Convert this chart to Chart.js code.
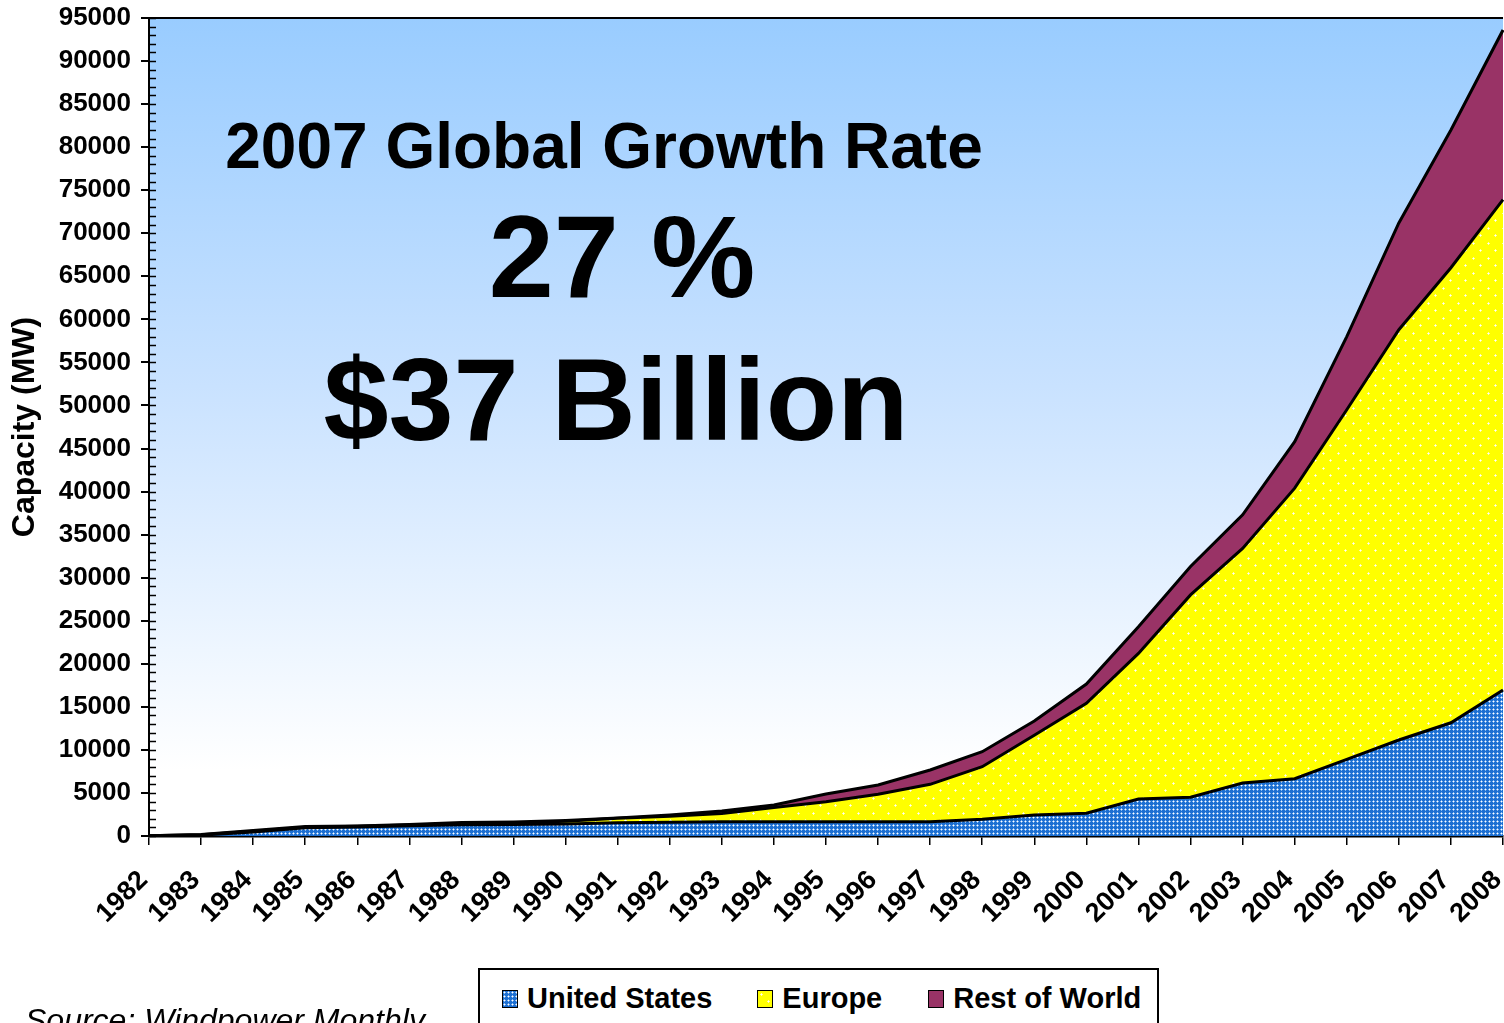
<!DOCTYPE html>
<html>

<head>
    <title>Global Wind Capacity</title>
    <script src="https://cdn.jsdelivr.net/npm/chart.js"></script>
    <style>
        body {
            margin: 0;
            overflow: hidden;
            background: white;
            font-family: "Liberation Sans", Arial, sans-serif;
        }

        .wrap {
            position: relative;
            width: 1504px;
            height: 1023px;
        }

        .note {
            position: absolute;
            font-weight: bold;
            white-space: nowrap;
            color: black;
            transform: translateX(-50%);
        }

        #legend {
            position: absolute;
            left: 478px;
            top: 968px;
            width: 677px;
            height: 80px;
            border: 2px solid black;
            background: white;
            box-sizing: content-box;
            display: flex;
            align-items: flex-start;
        }

        .item {
            display: flex;
            align-items: center;
            font-weight: bold;
            font-size: 29px;
            line-height: 29px;
            margin-top: 14px;
        }

        .swatch {
            width: 14px;
            height: 16px;
            border: 1.5px solid black;
            margin-right: 9px;
        }

        #source {
            position: absolute;
            left: 25px;
            top: 1004px;
            font-size: 32px;
            line-height: 32px;
            font-style: italic;
            white-space: nowrap;
        }
    </style>
</head>

<body>
    <div class="wrap">
        <canvas id="windChart" width="1504" height="1023"></canvas>

        <div class="note" style="left:604px; top:114px; font-size:64px; line-height:64px;">2007 Global Growth Rate</div>
        <div class="note" style="left:622px; top:198px; font-size:117px; line-height:117px;">27 %</div>
        <div class="note" style="left:616px; top:341px; font-size:117px; line-height:117px;">$37 Billion</div>

        <div id="legend"></div>
        <div id="source">Source: Windpower Monthly</div>
    </div>

    <script>
        // values (MW, stacked)
        const years = ['1982', '1983', '1984', '1985', '1986', '1987', '1988', '1989', '1990', '1991',
            '1992', '1993', '1994', '1995', '1996', '1997', '1998', '1999', '2000', '2001',
            '2002', '2003', '2004', '2005', '2006', '2007', '2008'];
        const unitedStates = [10, 100, 450, 950, 1050, 1200, 1300, 1350, 1400, 1550, 1600, 1650, 1650, 1650,
            1650, 1650, 1950, 2450, 2650, 4300, 4500, 6150, 6650, 8900, 11150, 13150, 16950];
        const europe = [10, 50, 100, 80, 70, 80, 150, 150, 300, 500, 700, 950, 1650, 2330,
            3190, 4350, 6100, 9250, 12750, 16900, 23500, 27250, 33750, 40600, 47650, 52850, 56950];
        const restOfWorld = [10, 30, 90, 70, 50, 60, 120, 120, 100, 50, 140, 300, 300, 900,
            1080, 1670, 1740, 1650, 2250, 3100, 3300, 3900, 5400, 8500, 12400, 16000, 19700];
        const seriesNames = ['United States', 'Europe', 'Rest of World'];

        const yMax = 95000;
        const yStep = 5000;
        const yMinorStep = 1000;

        Chart.defaults.font.family = '"Liberation Sans", Arial, sans-serif';
        Chart.defaults.color = 'black';

        // small dotted tiles for the fills
        function makeTile(size, base, dots) {
            const c = document.createElement('canvas');
            c.width = size;
            c.height = size;
            const g = c.getContext('2d');
            g.fillStyle = base;
            g.fillRect(0, 0, size, size);
            dots.forEach(d => {
                g.fillStyle = d[2];
                g.fillRect(d[0], d[1], 1, 1);
            });
            return c;
        }

        const blueTile = makeTile(4, '#1c6fd2', [
            [1, 1, '#ffffff'], [0, 1, '#8ab8ee'], [2, 1, '#8ab8ee'], [1, 0, '#8ab8ee'], [1, 2, '#8ab8ee']
        ]);
        const yellowTile = makeTile(15, '#ffff00', [
            [3, 3, '#ffffff'], [2, 3, '#ffffaa'], [4, 3, '#ffffaa'], [3, 2, '#ffffaa'], [3, 4, '#ffffaa'],
            [10, 10, '#ffffff'], [9, 10, '#ffffaa'], [11, 10, '#ffffaa'], [10, 9, '#ffffaa'], [10, 11, '#ffffaa']
        ]);

        const ctx = document.getElementById('windChart').getContext('2d');
        const bluePattern = ctx.createPattern(blueTile, 'repeat');
        const yellowPattern = ctx.createPattern(yellowTile, 'repeat');
        const maroon = '#993366';

        // sky gradient behind the plot + top frame line + inner minor ticks
        const plotDecor = {
            id: 'plotDecor',
            beforeDraw(chart) {
                const a = chart.chartArea;
                const c = chart.ctx;
                const grad = c.createLinearGradient(0, a.top, 0, a.bottom);
                grad.addColorStop(0, '#99ccff');
                grad.addColorStop(0.45, '#c9e2ff');
                grad.addColorStop(0.92, '#ffffff');
                grad.addColorStop(1, '#ffffff');
                c.save();
                c.fillStyle = grad;
                c.fillRect(a.left, a.top, a.right - a.left, a.bottom - a.top);
                c.restore();
            },
            afterDraw(chart) {
                const a = chart.chartArea;
                const c = chart.ctx;
                const y = chart.scales.y;
                c.save();
                c.strokeStyle = 'black';
                c.lineWidth = 2;
                c.beginPath();
                c.moveTo(a.left, a.top);
                c.lineTo(a.right, a.top);
                c.stroke();
                c.lineWidth = 1.5;
                for (let v = 0; v <= yMax; v += yMinorStep) {
                    const py = Math.round(y.getPixelForValue(v)) + 0.5;
                    c.beginPath();
                    c.moveTo(a.left, py);
                    c.lineTo(a.left + 7, py);
                    c.stroke();
                }
                c.restore();
            }
        };

        const fills = [bluePattern, yellowPattern, maroon];
        const values = [unitedStates, europe, restOfWorld];

        const chart = new Chart(ctx, {
            type: 'line',
            data: {
                labels: years,
                datasets: values.map((v, i) => ({
                    label: seriesNames[i],
                    data: v,
                    backgroundColor: fills[i],
                    borderColor: 'black',
                    borderWidth: 3,
                    pointRadius: 0,
                    tension: 0,
                    fill: i === 0 ? 'origin' : '-1'
                }))
            },
            options: {
                responsive: false,
                animation: false,
                devicePixelRatio: 1,
                layout: {
                    padding: { top: 18, right: 1, bottom: 0, left: 0 }
                },
                plugins: {
                    legend: { display: false },
                    tooltip: { enabled: false }
                },
                scales: {
                    x: {
                        type: 'category',
                        offset: false,
                        grid: {
                            drawOnChartArea: false,
                            color: 'black',
                            lineWidth: 1.5,
                            tickLength: 9
                        },
                        border: { color: 'black', width: 2.5 },
                        ticks: {
                            autoSkip: false,
                            minRotation: 45,
                            maxRotation: 45,
                            padding: 14,
                            font: { size: 27, weight: 'bold' },
                            // trailing space nudges the slanted labels down-left like the original
                            callback(value) {
                                return this.getLabelForValue(value) + ' ';
                            }
                        },
                        afterFit(scale) {
                            scale.height = 187;
                            scale.paddingLeft = 0;
                            scale.paddingRight = 0;
                        }
                    },
                    y: {
                        stacked: true,
                        min: 0,
                        max: yMax,
                        grid: {
                            drawOnChartArea: false,
                            color: 'black',
                            lineWidth: 2,
                            tickLength: 8
                        },
                        border: { color: 'black', width: 2 },
                        ticks: {
                            stepSize: yStep,
                            padding: 10,
                            font: { size: 26, weight: 'bold' },
                            callback: v => String(v)
                        },
                        title: {
                            display: true,
                            text: 'Capacity (MW)',
                            font: { size: 32, weight: 'bold' },
                            padding: { top: 6, bottom: 0 }
                        },
                        afterFit(scale) {
                            scale.width = 149;
                            scale.paddingTop = 0;
                            scale.paddingBottom = 0;
                        }
                    }
                }
            },
            plugins: [plotDecor]
        });

        // html legend built from the datasets
        const legend = document.getElementById('legend');
        const swatchBg = [
            'url(' + blueTile.toDataURL() + ')',
            'url(' + yellowTile.toDataURL() + ')',
            maroon
        ];
        const gaps = [22, 45, 46];
        chart.data.datasets.forEach((ds, i) => {
            const item = document.createElement('div');
            item.className = 'item';
            item.style.marginLeft = gaps[i] + 'px';
            const sw = document.createElement('span');
            sw.className = 'swatch';
            sw.style.background = swatchBg[i];
            const txt = document.createElement('span');
            txt.textContent = ds.label;
            item.appendChild(sw);
            item.appendChild(txt);
            legend.appendChild(item);
        });
    </script>
</body>

</html>
